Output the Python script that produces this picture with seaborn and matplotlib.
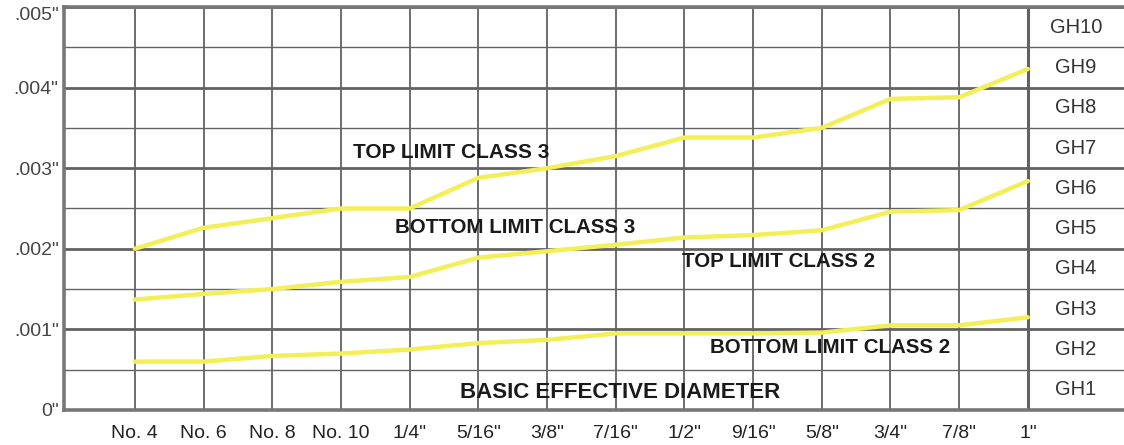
import pandas as pd
import matplotlib.pyplot as plt
import seaborn as sns

# Thread sizes along the bottom
sizes = ["No. 4", "No. 6", "No. 8", "No. 10", '1/4"', '5/16"', '3/8"',
         '7/16"', '1/2"', '9/16"', '5/8"', '3/4"', '7/8"', '1"']

# Limits (inches)
top_class3 = [0.00200, 0.00226, 0.00238, 0.00250, 0.00250, 0.00288, 0.00300,
              0.00315, 0.00338, 0.00338, 0.00350, 0.00386, 0.00388, 0.00423]
bottom_class3 = [0.00137, 0.00144, 0.00150, 0.00159, 0.00165, 0.00189, 0.00197,
                 0.00205, 0.00214, 0.00217, 0.00223, 0.00246, 0.00248, 0.00284]
bottom_class2 = [0.00060, 0.00060, 0.00067, 0.00070, 0.00075, 0.00083, 0.00087,
                 0.00095, 0.00095, 0.00095, 0.00096, 0.00105, 0.00105, 0.00115]

y_ticks = [0, 0.001, 0.002, 0.003, 0.004, 0.005]
y_tick_labels = ['0"', '.001"', '.002"', '.003"', '.004"', '.005"']
gh_labels = ["GH1", "GH2", "GH3", "GH4", "GH5", "GH6", "GH7", "GH8", "GH9", "GH10"]

# Long-form table for seaborn
pos = list(range(len(sizes)))
df = pd.concat([
    pd.DataFrame({"pos": pos, "limit": top_class3, "series": "top3"}),
    pd.DataFrame({"pos": pos, "limit": bottom_class3, "series": "bottom3"}),
    pd.DataFrame({"pos": pos, "limit": bottom_class2, "series": "bottom2"}),
])

sns.set_style("white")
plt.rcParams['font.family'] = ['Liberation Sans', 'DejaVu Sans']

fig = plt.figure(figsize=(11.24, 4.45), dpi=100)
ax = fig.add_axes([0.057, 0.0787, 0.943, 0.9056])

grid_col = "#626262"
# horizontal grid: every .0005, heavier at each .001
for i in range(11):
    v = i * 0.0005
    lw = 2.0 if i % 2 == 0 else 1.0
    ax.axhline(v, color=grid_col, lw=lw, zorder=1)
# vertical grid at each size
for p in pos:
    lw = 2.2 if p == pos[-1] else 1.3
    ax.axvline(p, color=grid_col, lw=lw, zorder=1)

sns.lineplot(data=df, x="pos", y="limit", units="series", estimator=None,
             color="#f3ef58", lw=3.2, ax=ax, zorder=3, legend=False)

ax.set_xlim(-1.03, 14.4)
ax.set_ylim(0, 0.005)
ax.set_xticks(pos)
ax.set_xticklabels(sizes, fontsize=14, color="#222222")
ax.set_yticks(y_ticks)
ax.set_yticklabels(y_tick_labels, fontsize=14, color="#444444")
ax.get_yticklabels()[-1].set_verticalalignment("top")
ax.tick_params(length=0)
ax.tick_params(axis="y", pad=4)
ax.tick_params(axis="x", pad=11)
ax.set_xlabel("")
ax.set_ylabel("")

for side in ["left", "bottom", "top"]:
    ax.spines[side].set_color("#777777")
    ax.spines[side].set_linewidth(2.6)
ax.spines["right"].set_visible(False)

# GH bands in the right column
for i, g in enumerate(gh_labels):
    ax.text(13.7, i * 0.0005 + 0.00025, g, ha="center", va="center",
            fontsize=14.5, color="#333333")

# Curve labels
lab = dict(ha="center", va="center", fontweight="bold", color="#1a1a1a")
ax.text(4.61, 0.00319, "TOP LIMIT CLASS 3", fontsize=15, **lab)
ax.text(5.53, 0.00227, "BOTTOM LIMIT CLASS 3", fontsize=14.8, **lab)
ax.text(9.37, 0.00184, "TOP LIMIT CLASS 2", fontsize=14.8, **lab)
ax.text(10.12, 0.00077, "BOTTOM LIMIT CLASS 2", fontsize=14.8, **lab)
ax.text(7.07, 0.00022, "BASIC EFFECTIVE DIAMETER", fontsize=16, **lab)

fig.savefig("out.png", dpi=100)
